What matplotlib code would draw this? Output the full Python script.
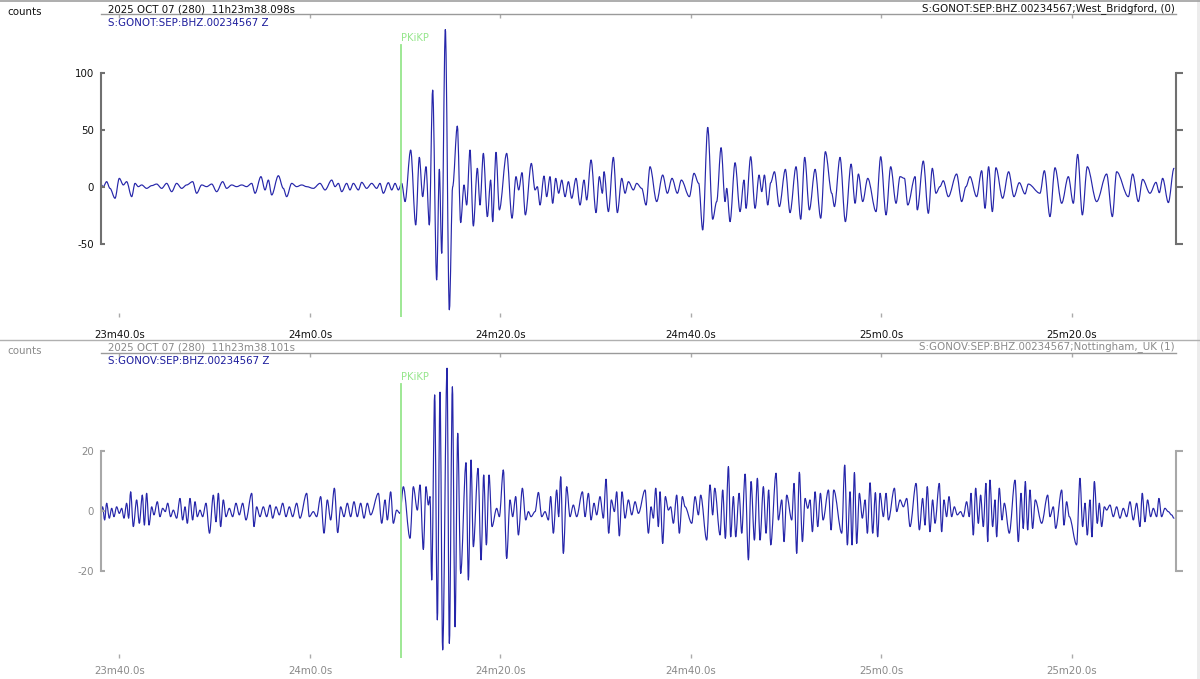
import matplotlib
matplotlib.use('Agg')
import matplotlib.pyplot as plt
from matplotlib.lines import Line2D
from matplotlib.patches import Rectangle, PathPatch
from matplotlib.path import Path

# ---------------- data (time in s since 11h00m00s, amplitude in counts) ----------------
top_t = [1417.95, 1418.30, 1418.65, 1419.00, 1419.53, 1419.98, 1420.40, 1420.75, 1421.28, 1421.63,
         1421.98, 1422.33, 1422.85, 1423.38, 1423.90, 1424.43, 1424.95, 1425.48, 1426.00, 1426.53,
         1427.05, 1427.68, 1428.10, 1428.63, 1429.15, 1429.68, 1430.20, 1430.83, 1431.25, 1431.78,
         1432.30, 1432.83, 1433.35, 1433.88, 1434.23, 1434.85, 1435.28, 1435.63, 1435.98, 1436.68,
         1437.20, 1437.55, 1438.08, 1438.60, 1439.13, 1439.65, 1440.35, 1441.05, 1441.58, 1442.28,
         1442.63, 1442.98, 1443.33, 1443.85, 1444.20, 1444.55, 1445.08, 1445.43, 1445.95, 1446.48, 1447.00,
         1447.35, 1447.70, 1448.23, 1448.58, 1448.93, 1449.28, 1449.63, 1449.98, 1450.57, 1451.10,
         1451.48, 1451.83, 1452.18, 1452.53, 1452.88, 1453.30, 1453.58, 1453.83, 1454.21, 1454.63,
         1454.98, 1455.47, 1455.82, 1456.17, 1456.45, 1456.80, 1457.15, 1457.57, 1457.85, 1458.20,
         1458.62, 1458.97, 1459.18, 1459.53, 1459.88, 1460.65, 1461.21, 1461.63, 1461.91, 1462.26,
         1462.61, 1463.24, 1463.63, 1463.87, 1464.15, 1464.57, 1464.85, 1465.20, 1465.48, 1465.80,
         1466.11, 1466.43, 1466.78, 1467.13, 1467.48, 1467.93, 1468.35, 1468.77, 1469.05, 1469.51,
         1470.03, 1470.38, 1470.70, 1470.87, 1471.33, 1471.85, 1472.27, 1472.73, 1473.08, 1473.43,
         1473.95, 1474.30, 1474.83, 1475.28, 1475.70,
         1476.40, 1477.03, 1477.52, 1478.01, 1478.57, 1478.99, 1479.83, 1480.32, 1480.81,
         1481.23, 1481.76, 1482.28, 1482.70, 1483.16, 1483.58, 1483.75, 1484.10, 1484.63, 1485.15,
         1485.57, 1485.78, 1486.27, 1486.73, 1487.15, 1487.43, 1487.71, 1488.06, 1488.37, 1488.76,
         1489.28, 1489.91, 1490.40, 1491.03, 1491.52, 1491.94, 1492.43, 1493.03, 1493.62, 1494.11,
         1494.78, 1495.06, 1495.65, 1496.21, 1496.81, 1497.23, 1497.58, 1498.03, 1498.56, 1499.43,
         1499.92, 1500.48, 1500.97, 1501.53, 1501.95, 1502.41, 1502.76, 1503.53,
         1503.76, 1504.39, 1504.92, 1505.34, 1505.72, 1506.14, 1506.49, 1507.02, 1507.89, 1508.42,
         1508.87, 1509.29, 1509.99, 1510.52, 1510.87, 1511.25, 1511.64, 1512.02, 1512.72, 1513.35,
         1513.91, 1514.47, 1515.07, 1515.42, 1516.64, 1517.10, 1517.69, 1518.22, 1518.92,
         1519.62, 1520.14, 1520.60, 1521.09, 1521.61, 1522.59, 1523.64, 1524.24,
         1524.69, 1525.92, 1526.37, 1526.97, 1527.42, 1528.19, 1528.82, 1529.17, 1529.52, 1530.12, 1530.71]
top_v = [3.2, 0.3, 4.7, -1.2, -9.9, 7.6, 1.8, 4.7, -8.5, 3.2,
         0.3, 1.8, -1.2, 1.2, 2.6, -1.2, 3.2, -4.1, 3.2, -1.2,
         1.8, 4.7, -5.5, 1.8, 0.3, 2.6, -4.1, 4.7, -1.2, 1.8,
         0.3, 1.8, 0.3, 3.2, -5.5, 9.1, -2.6, 6.1, -7.0, 9.9,
         -1.2, -8.5, 3.2, 0.3, 1.8, 0.3, -1.2, 3.2, -2.6, 6.1,
         0.3, 3.2, -4.1, 3.2, -2.6, 3.2, -2.6, 4.1, -1.2, 3.2, -1.2,
         3.2, -5.5, 3.8, -2.6, 3.2, -2.6, 3.2, -12.8, 32.4, -33.3,
         26.0, -8.5, 17.8, -33.3, 85.0, -81.5, 15.5, -58.1, 138.1, -107.7,
         0.3, 53.4, -31.2, 1.8, -15.8, 32.4, -34.2, 16.4, -15.8, 29.5,
         -26.0, 6.1, -30.4, 30.4, -20.1, 29.5, -27.4, 9.1, -2.6, 12.6,
         -24.5, 20.7, -2.6, 0.3, -15.8, 9.6, -8.5, 9.1, -14.3, 7.6,
         -5.5, 6.1, -8.5, 4.7, -9.9, 7.6, -15.8, 6.1, -11.4, 23.7,
         -22.5, 9.1, -5.5, 13.4, -21.6, 26.0, -22.5, 7.6, -5.5, 4.7,
         -2.6, 3.2, -1.2, -15.8, 17.8,
         -12.8, 10.5, -5.5, 7.6, -5.5, 6.1, -8.5, 12.0, 3.2,
         -37.7, 52.3, -28.3, -12.8, 34.5, -12.8, -1.2, -30.4, 21.3, -21.6,
         6.1, -18.7, 26.6, -18.7, 10.5, -4.1, 10.5, -15.8, 3.8, 13.4,
         -17.2, 15.5, -22.5, 17.8, -28.3, 26.0, -20.1, 15.5, -27.4, 31.0,
         -5.5, -17.2, 26.0, -30.4, 20.1, -14.3, 11.4, -12.8, 7.6, -21.6,
         26.6, -24.5, 17.8, -14.3, 9.1, 7.6, -15.8, 9.1,
         -20.1, 22.8, -23.1, 16.4, -5.5, 0.3, 5.5, -8.5, 11.4, -12.8,
         0.3, 9.1, -8.5, 14.3, -18.7, 17.8, -21.6, 16.9, -9.9, 13.4,
         -8.5, 3.8, -6.1, 2.6, -5.5, 14.3, -26.0, 16.9, -14.3,
         9.1, -14.3, 28.6, -24.5, 17.8, -12.8, 11.4, -26.0,
         13.4, -8.5, 11.4, -12.8, 6.7, -5.5, 4.1, -5.0, 7.6, -13.7, 16.4]

bot_t = [1417.95, 1418.23, 1418.44, 1418.65, 1418.93, 1419.18, 1419.42, 1419.70, 1419.98, 1420.23,
         1420.47, 1420.75, 1420.96, 1421.17, 1421.45, 1421.80, 1422.08, 1422.40, 1422.61, 1422.85,
         1423.10, 1423.38, 1423.62, 1423.97, 1424.25, 1424.53, 1424.81, 1425.06, 1425.37, 1425.65,
         1426.00, 1426.35, 1426.63, 1426.88, 1427.12, 1427.40, 1427.68, 1427.93, 1428.17, 1428.45,
         1428.73, 1429.08, 1429.45, 1429.85, 1430.13, 1430.38, 1430.62, 1430.90, 1431.18, 1431.53,
         1431.88, 1432.23, 1432.58, 1432.93, 1433.28, 1433.88, 1434.12, 1434.40, 1434.75, 1435.10,
         1435.45, 1435.80, 1436.08, 1436.43, 1436.78, 1437.13, 1437.48, 1437.83, 1438.18, 1438.60,
         1438.95, 1439.65, 1439.93, 1440.35, 1440.70, 1441.12, 1441.47, 1441.82, 1442.17, 1442.56,
         1442.91, 1443.22, 1443.57, 1443.92, 1444.27, 1444.62, 1444.97, 1445.32, 1445.67, 1446.02,
         1446.37, 1447.18,
         1447.53, 1447.88, 1448.12, 1448.47, 1448.75, 1449.10, 1449.45, 1449.80, 1450.50,
         1450.85, 1451.27, 1451.55, 1451.90, 1452.18, 1452.43, 1452.60, 1452.78, 1453.09, 1453.37,
         1453.65, 1453.93, 1454.39, 1454.63, 1454.95, 1455.23, 1455.51, 1455.82, 1456.38,
         1456.63, 1456.91, 1457.15, 1457.64, 1457.96, 1458.24, 1458.52, 1458.80, 1459.11, 1459.60,
         1459.88, 1460.30, 1460.65, 1461.00, 1461.28, 1461.60, 1461.88, 1462.30, 1462.65, 1462.93,
         1463.21, 1463.63, 1463.98, 1464.33, 1464.68, 1465.03, 1465.27, 1465.55, 1465.90, 1466.11,
         1466.32, 1466.60, 1466.95, 1467.30, 1467.65, 1468.00, 1468.60, 1468.88, 1469.23,
         1469.51, 1469.82, 1470.10, 1470.45, 1470.80, 1471.08, 1471.36, 1471.64, 1471.96, 1472.20,
         1472.48, 1472.76, 1473.08, 1473.43, 1473.78, 1474.13, 1474.48, 1475.18, 1475.53,
         1475.81, 1476.05, 1476.30, 1476.58, 1476.75, 1477.03, 1477.31, 1477.63, 1477.87, 1478.15,
         1478.50, 1478.78, 1479.10, 1479.38, 1480.08, 1480.43, 1480.78, 1481.02, 1481.65, 1482.00,
         1482.28, 1482.49, 1483.05, 1483.33, 1483.61, 1483.93, 1484.17, 1484.45, 1484.70, 1485.05,
         1485.33, 1485.68, 1486.03, 1486.31, 1486.66, 1486.97, 1487.25, 1487.60, 1487.88, 1488.16,
         1488.37, 1488.93, 1489.18, 1489.53, 1489.77, 1490.05, 1490.58, 1490.82, 1491.10, 1491.38,
         1491.70, 1491.98, 1492.26, 1492.50, 1492.75, 1493.03, 1493.31, 1493.59, 1493.87, 1494.43,
         1494.71, 1494.99, 1495.83, 1496.14, 1496.42, 1496.70, 1496.91, 1497.16, 1497.40, 1497.68,
         1497.99, 1498.28, 1498.52, 1498.80, 1499.08, 1499.36, 1499.60, 1499.85, 1500.20, 1500.48,
         1500.73, 1501.36, 1501.60, 1501.95, 1502.30, 1502.65, 1503.00, 1503.63,
         1503.98, 1504.32, 1504.57, 1504.81, 1505.09, 1505.37, 1505.62, 1506.07, 1506.32, 1506.56,
         1506.84, 1507.09, 1507.37, 1507.65, 1507.96, 1508.31, 1508.59, 1508.94, 1509.22, 1509.40,
         1509.64, 1509.89, 1510.17, 1510.41, 1510.69, 1510.97, 1511.15, 1511.39, 1511.67, 1511.92,
         1512.09, 1512.37, 1512.65, 1512.90, 1513.42, 1514.02, 1514.37, 1514.65, 1514.89, 1515.10,
         1515.35, 1515.59, 1515.87, 1516.15, 1516.82, 1517.45, 1517.69, 1518.04, 1518.29, 1518.92,
         1519.16, 1519.44, 1519.72, 1520.49, 1520.84, 1521.12, 1521.37, 1521.61, 1521.89, 1522.10,
         1522.35, 1522.66, 1522.87, 1523.12, 1523.40, 1523.64, 1523.99, 1524.34, 1524.69, 1525.04,
         1525.39, 1525.74, 1526.09, 1526.44, 1526.79, 1527.14, 1527.38, 1527.66, 1527.94, 1528.26,
         1528.54, 1528.89, 1529.13, 1529.41, 1529.76, 1530.11, 1530.46, 1530.71]
bot_v = [-1.9, 1.4, -3.0, 2.6, -2.4, 0.9, -1.9, 1.4, -0.8, 0.9,
         -2.4, 2.6, -2.4, 6.4, -5.2, 3.7, -4.1, 5.3, -4.7, 5.9,
         -4.7, 1.4, -1.3, 3.1, -1.9, 0.9, -0.2, 2.6, -1.9, 0.3,
         -2.4, 4.2, -3.0, 1.4, -4.1, 4.2, -3.0, 3.1, -1.9, 0.3,
         -1.9, 2.6, -7.4, 5.3, -3.6, 5.9, -5.2, 3.7, -1.9, 0.9,
         -1.9, 2.6, -1.3, 2.6, -3.0, 5.9, -5.2, 1.4, -1.9, 1.4,
         -1.9, 2.0, -2.4, 1.4, -1.3, 2.6, -1.9, 1.4, -1.9, 2.6,
         -2.4, 5.9, -1.9, -0.2, -1.9, 4.8, -7.4, 3.7, -3.0, 7.6,
         -7.2, 1.4, -1.9, 2.6, -1.9, 3.1, -1.9, 2.6, -2.4, 2.6,
         -1.3, 5.9,
         -4.1, 3.7, -3.0, 6.4, -4.1, 0.3, -0.8, 8.1, -9.1,
         8.1, 0.3, 8.7, -12.8, 8.1, 2.0, 4.8, -23.0, 38.7, -36.3,
         39.6, -46.3, 47.6, -44.1, 41.4, -38.6, 25.9, -20.8, 16.1,
         -23.0, 17.0, -11.9, 14.2, -16.3, 12.0, -11.3, 12.0, -5.2, 0.9,
         -1.9, 13.7, -15.8, 3.7, -1.9, 4.8, -8.0, 7.6, -3.0, -0.2,
         -1.9, -0.2, 6.2, -1.9, -0.2, -3.0, 4.8, -7.4, 7.0, -1.9,
         11.4, -14.1, 8.1, -1.9, 2.0, -1.9, 6.4, -1.9, 5.9,
         -3.0, 2.6, -1.3, 4.8, -2.4, 10.6, -7.4, 3.7, -0.2, 6.4,
         -8.3, 6.4, -2.4, 3.7, -1.3, 3.1, -0.8, 7.0, -7.4,
         1.4, -2.4, 7.6, -5.2, 6.4, -10.8, 4.8, 0.3, 1.4, -4.1,
         5.3, -7.4, 4.8, 1.4, -4.1, 4.8, -1.3, 5.3, -9.7, 8.7,
         -1.3, 7.6, -8.0, 7.0, -9.1, 14.8, -8.6, 4.8, -8.6, 5.9,
         -7.4, 12.3, -16.3, 9.8, -9.7, 10.9, -9.7, 8.1, -7.4, 7.0,
         -11.3, 12.6, -3.0, 3.7, -10.2, 5.3, -3.0, 9.2, -14.1, 12.9,
         -10.2, 4.2, 0.9, 3.7, -6.9, 6.4, -5.2, 5.9, -3.0, 7.0,
         -6.3, 7.0, -7.4, 15.3, -11.3, 6.4, -11.3, 12.8, -10.8, 5.9,
         -2.4, 3.7, -7.4, 9.4, -7.4, 6.1, -8.6, 5.9, -1.9, 5.9,
         -3.0, 7.6, -0.2, 3.7, 1.4, 4.2, -5.2, 9.2,
         -6.3, 4.2, -4.7, 8.1, -6.9, 3.7, -4.1, 9.2, -6.9, 3.7,
         -1.9, 4.8, -1.9, 1.4, -1.3, -0.2, -1.9, 3.1, -1.9, 5.9,
         -8.0, 7.6, -4.1, 5.3, -5.2, 9.2, -10.2, 10.3, -5.2, 3.7,
         -8.6, 7.6, -3.0, 2.6, -7.4, 10.3, -10.2, 5.9, -5.8, 9.8,
         -6.3, 7.0, -5.8, 3.7, -4.1, 5.3, -1.9, 1.4, -5.8, 7.0,
         -4.7, 3.1, -1.9, -11.3, 10.9, -5.2, 2.6, -8.0, 3.7, -8.6,
         9.8, -4.1, 2.6, -5.2, 1.4, 0.3, 2.0, -1.9, 1.4, -2.4,
         0.9, -1.9, 3.1, -3.0, 2.6, -5.2, 5.9, -3.6, 3.7, -1.9,
         0.9, -1.9, 4.2, -1.9, 0.9, -0.2, -1.3, -2.4]

pkikp_t = 1449.52
x_range = [1418.1, 1530.87]
x_ticks = [1420, 1440, 1460, 1480, 1500, 1520]
top_yticks = [-50, 0, 50, 100]
bot_yticks = [-20, 0, 20]
top_header = "2025 OCT 07 (280)  11h23m38.098s"
bot_header = "2025 OCT 07 (280)  11h23m38.101s"
top_chan = "S:GONOT:SEP:BHZ.00234567 Z"
bot_chan = "S:GONOV:SEP:BHZ.00234567 Z"
top_station = "S:GONOT:SEP:BHZ.00234567;West_Bridgford, (0)"
bot_station = "S:GONOV:SEP:BHZ.00234567;Nottingham,_UK (1)"

# ---------------- drawing ----------------
W, H = 1200, 679
plt.rcParams['font.family'] = ['DejaVu Sans']
fig = plt.figure(figsize=(W / 100, H / 100), dpi=100)
FS = 7.4
TRACE = '#2626aa'
CHAN = '#1c1c9c'
GREEN = '#96e68c'


def fx(px):
    return px / W


def fy(py):
    return 1 - py / H


def tfmt(t):
    m = int(t // 60)
    return f"{m}m{t - 60 * m:.1f}s"


def trace_path(t, v):
    # waveform drawn through the read extrema as smooth cubic segments
    verts = [(t[0], v[0])]
    codes = [Path.MOVETO]
    for i in range(len(t) - 1):
        d = (t[i + 1] - t[i]) / 3.0
        verts += [(t[i] + d, v[i]), (t[i + 1] - d, v[i + 1]), (t[i + 1], v[i + 1])]
        codes += [Path.CURVE4] * 3
    return Path(verts, codes)


def panel(top_px, bot_px, ylim, yticks, t, v, header, chan, station,
          txtcol, axcol, xpad, header_y, chan_y):
    L, R = 101.4, 1175.5
    ax = fig.add_axes([fx(L), fy(bot_px), (R - L) / W, (bot_px - top_px) / H])
    ax.set_facecolor('none')
    ax.add_patch(PathPatch(trace_path(t, v), fill=False, edgecolor=TRACE, lw=0.85,
                           joinstyle='round', capstyle='round'))
    ax.set_xlim(*x_range)
    ax.set_ylim(*ylim)
    for s in ['right', 'bottom']:
        ax.spines[s].set_visible(False)
    ax.spines['top'].set_color('#9a9a9a')
    ax.spines['top'].set_linewidth(1.0)
    ax.spines['left'].set_color(axcol)
    ax.spines['left'].set_linewidth(1.5)
    ax.spines['left'].set_bounds(yticks[0], yticks[-1])
    ax.set_xticks(x_ticks)
    ax.set_xticklabels([tfmt(x) for x in x_ticks])
    ax.tick_params(axis='x', direction='in', length=3, width=1, color='#aaaaaa',
                   top=True, bottom=True, labelsize=FS, labelcolor=txtcol, pad=xpad)
    ax.set_yticks(yticks)
    ax.set_yticklabels([str(y) for y in yticks])
    ax.tick_params(axis='y', direction='in', length=3, width=1.5, color=axcol,
                   left=True, right=False, labelsize=FS, labelcolor=txtcol, pad=5.5)
    tw = ax.twinx()
    tw.set_ylim(*ylim)
    for s in ['left', 'top', 'bottom']:
        tw.spines[s].set_visible(False)
    tw.spines['right'].set_color(axcol)
    tw.spines['right'].set_linewidth(1.5)
    tw.spines['right'].set_bounds(yticks[0], yticks[-1])
    tw.set_yticks(yticks)
    tw.set_yticklabels([])
    tw.tick_params(axis='y', direction='out', length=5, width=1.5, color=axcol)
    # phase marker
    ax.axvline(pkikp_t, ymin=0, ymax=0.898, color=GREEN, lw=1.3)
    ax.text(pkikp_t, 0.921, 'PKiKP', transform=ax.get_xaxis_transform(),
            color=GREEN, fontsize=FS - 0.2, ha='left', va='center')
    # header texts
    fig.text(fx(7), fy(top_px - 2), 'counts', fontsize=FS, color=txtcol, va='center', ha='left')
    fig.text(fx(108), fy(header_y), header, fontsize=FS, color=txtcol, va='center', ha='left')
    fig.text(fx(108), fy(chan_y), chan, fontsize=FS, color=CHAN, va='center', ha='left')
    fig.text(fx(1175), fy(header_y), station, fontsize=FS, color=txtcol, va='center', ha='right')
    return ax


top_ylim = ((187 - 317) / 1.14, (187 - 14) / 1.14)
bot_ylim = ((511 - 658) / 3.0, (511 - 353) / 3.0)

panel(14, 317, top_ylim, top_yticks, top_t, top_v, top_header, top_chan, top_station,
      '#111111', '#707070', 9.0, 9, 23)
panel(353, 658, bot_ylim, bot_yticks, bot_t, bot_v, bot_header, bot_chan, bot_station,
      '#8a8a8a', '#a8a8a8', 5.5, 347, 361)

# frame decorations
fig.add_artist(Line2D([0, 1], [fy(340), fy(340)], color='#b0b0b0', lw=1.0))
fig.add_artist(Line2D([0, 1], [fy(0.5), fy(0.5)], color='#a0a0a0', lw=1.2))
fig.add_artist(Rectangle((fx(1197), 0), fx(3), 1, color='#ececec', lw=0))

fig.savefig('out.png', dpi=100, facecolor='white')
